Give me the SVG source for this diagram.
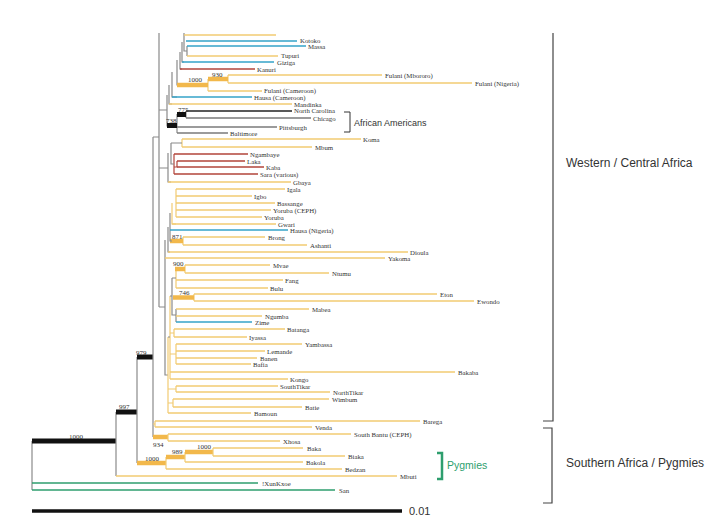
<svg xmlns="http://www.w3.org/2000/svg" width="721" height="527" viewBox="0 0 721 527">
<style>
.l{fill:none;stroke-width:1.4}
.y{stroke:#F2CB72}
.b{stroke:#35A3C9}
.r{stroke:#B2443A}
.g{stroke:#2E9E6E;stroke-width:1.6}
.k{stroke:#222}
.m{stroke:#7a7a7a}
.i{fill:none;stroke:#8a8a8a;stroke-width:1.2}
.iy{fill:none;stroke:#F2CB72;stroke-width:1.2}
.ir{fill:none;stroke:#B2443A;stroke-width:1.2}
.bk{stroke:#111;stroke-width:5}
.bo{stroke:#F2B84B;stroke-width:4.5}
.t{font-family:"Liberation Serif","Times New Roman",serif;font-size:6.8px;fill:#333}
.bs{font-family:"Liberation Serif","Times New Roman",serif;font-size:7px;fill:#333}
.s{font-family:"Liberation Sans",Arial,sans-serif;fill:#333}
</style>
<rect width="721" height="527" fill="#fff"/>
<g id="connectors">
<path class="i" d="M32 441V490" stroke="#555"/>
<path class="bk" d="M32 441H116"/>
<path class="i" d="M116 412V476"/>
<path class="bk" d="M116 412H137"/>
<path class="i" d="M137 357V463"/>
<path class="bk" d="M137 357H153"/>
<path class="bo" d="M137 463H166"/>
<path class="iy" d="M166 457V469"/>
<path class="bo" d="M166 457H185"/>
<path class="iy" d="M185 452V462"/>
<path class="bo" d="M185 452H213"/>
<path class="iy" d="M213 448V456"/>
<path class="i" d="M153 137V437"/>
<path class="bo" d="M153 437H168"/>
<path class="iy" d="M168 434V441"/>
<path class="iy" d="M153 424H155M155 421V427"/>
<path class="i" d="M153 137H159M159 33V307"/>
<path class="i" d="M187 46V56M184 33V51H187M182 42V62H184M180 52V69H182M177 60V85H180M172 72V97H177M169 85V104H172M167 95V126H169M159 110H167"/>
<path class="iy" d="M228 75V83M208 79V91"/>
<path class="bo" d="M208 79H228"/>
<path class="bo" d="M177 85H208"/>
<path class="i" d="M186 111V118M177 114V133"/>
<path class="bk" d="M177 114.5H186"/>
<path class="bk" d="M167 125.5H177"/>
<path class="iy" d="M182 139V147"/>
<path class="ir" d="M174 154V174M177 161V167H174"/>
<path class="i" d="M171 143V164H174M171 143H182M168 153V182H171M159 168H168"/>
<path class="iy" d="M176 189V217M172 203V224H176M183 237V245"/>
<path class="bo" d="M170 241H183"/>
<path class="i" d="M170 213V241H172M168 227V252H170M165 240V375H168M159 307H165"/>
<path class="iy" d="M185 265V273M176 269V288M194 294V301M174 329V337M176 344V364M176 386V392M173 399V407"/>
<path class="bo" d="M175 269H185"/>
<path class="bo" d="M173 297.5H194"/>
<path class="i" d="M176 309V322M172 278V315H176M172 278H176"/>
<path class="iy" d="M170 296V379M170 333H174M170 354H176M168 337V413M168 389H176M168 403H173"/>
<path class="i" d="M170 296H172M168 337H170"/>
</g>
<g id="leaves" class="l">
<path class="y" d="M184 35H276"/>
<path class="b" d="M186 41H297"/>
<path class="b" d="M187 46H306"/>
<path class="y" d="M187 56H278"/>
<path class="b" d="M182 62H274"/>
<path class="r" d="M180 69H255"/>
<path class="y" d="M228 75H382"/>
<path class="y" d="M228 83H472"/>
<path class="y" d="M208 91H262"/>
<path class="b" d="M172 97H252"/>
<path class="y" d="M169 104H292"/>
<path class="k" d="M186 111H292"/>
<path class="m" d="M186 118H311"/>
<path class="m" d="M177 127H277"/>
<path class="m" d="M177 133H228"/>
<path class="y" d="M182 139H361"/>
<path class="y" d="M182 147H312"/>
<path class="r" d="M174 154H248"/>
<path class="r" d="M177 161H245"/>
<path class="r" d="M177 167H264"/>
<path class="r" d="M174 174H258"/>
<path class="y" d="M168 182H291"/>
<path class="y" d="M176 189H285"/>
<path class="y" d="M176 196H252"/>
<path class="y" d="M176 203H275"/>
<path class="y" d="M176 210H271"/>
<path class="y" d="M176 217H262"/>
<path class="y" d="M172 224H276"/>
<path class="b" d="M170 230H288"/>
<path class="y" d="M183 237H265"/>
<path class="y" d="M183 245H307"/>
<path class="y" d="M168 252H408"/>
<path class="y" d="M165 258H385"/>
<path class="y" d="M185 265H270"/>
<path class="y" d="M185 273H329"/>
<path class="y" d="M176 280H283"/>
<path class="y" d="M176 288H268"/>
<path class="y" d="M194 294H437"/>
<path class="y" d="M194 301H474"/>
<path class="y" d="M176 309H309"/>
<path class="y" d="M176 316H262"/>
<path class="b" d="M176 322H252"/>
<path class="y" d="M174 329H285"/>
<path class="y" d="M174 337H247"/>
<path class="y" d="M176 344H302"/>
<path class="y" d="M176 351H265"/>
<path class="y" d="M176 358H257"/>
<path class="y" d="M176 364H251"/>
<path class="y" d="M170 372H455"/>
<path class="y" d="M170 379H288"/>
<path class="y" d="M176 386H278"/>
<path class="y" d="M176 392H330"/>
<path class="y" d="M173 399H329"/>
<path class="y" d="M173 407H302"/>
<path class="y" d="M168 413H251"/>
<path class="y" d="M155 421H420"/>
<path class="y" d="M155 427H312"/>
<path class="y" d="M168 434H351"/>
<path class="y" d="M168 441H280"/>
<path class="y" d="M213 448H303"/>
<path class="y" d="M213 456H345"/>
<path class="y" d="M185 462H303"/>
<path class="y" d="M166 469H342"/>
<path class="y" d="M116 476H397"/>
<path class="g" d="M32 483H258"/>
<path class="g" d="M32 490H335"/>
</g>
<g id="labels" class="t">
<g id="n-kotoko"><text x="300" y="43">Kotoko</text></g>
<g id="n-massa"><text x="308" y="49">Massa</text></g>
<g id="n-tupuri"><text x="281" y="58">Tupuri</text></g>
<g id="n-giziga"><text x="277" y="65">Giziga</text></g>
<g id="n-kanuri"><text x="257" y="71.5">Kanuri</text></g>
<g id="n-fulani-mbororo"><text x="385" y="77.5">Fulani (Mbororo)</text></g>
<g id="n-fulani-nigeria"><text x="475" y="85.5">Fulani (Nigeria)</text></g>
<g id="n-fulani-cameroon"><text x="264" y="93">Fulani (Cameroon)</text></g>
<g id="n-hausa-cameroon"><text x="254" y="100">Hausa (Cameroon)</text></g>
<g id="n-mandinka"><text x="294" y="106.5">Mandinka</text></g>
<g id="n-north-carolina"><text x="294" y="113">North Carolina</text></g>
<g id="n-chicago"><text x="313" y="120.5">Chicago</text></g>
<g id="n-pittsburgh"><text x="279" y="129.5">Pittsburgh</text></g>
<g id="n-baltimore"><text x="230" y="135.5">Baltimore</text></g>
<g id="n-koma"><text x="363" y="141.5">Koma</text></g>
<g id="n-mbum"><text x="315" y="149.5">Mbum</text></g>
<g id="n-ngambaye"><text x="250" y="156.5">Ngambaye</text></g>
<g id="n-laka"><text x="247" y="163.5">Laka</text></g>
<g id="n-kaba"><text x="266" y="169.5">Kaba</text></g>
<g id="n-sara"><text x="260" y="176.5">Sara (various)</text></g>
<g id="n-gbaya"><text x="293" y="184.5">Gbaya</text></g>
<g id="n-igala"><text x="287" y="191.5">Igala</text></g>
<g id="n-igbo"><text x="254" y="198.5">Igbo</text></g>
<g id="n-bassange"><text x="277" y="205.5">Bassange</text></g>
<g id="n-yoruba-ceph"><text x="273" y="212.5">Yoruba (CEPH)</text></g>
<g id="n-yoruba"><text x="264" y="219.5">Yoruba</text></g>
<g id="n-gwari"><text x="278" y="226.5">Gwari</text></g>
<g id="n-hausa-nigeria"><text x="290" y="232.5">Hausa (Nigeria)</text></g>
<g id="n-brong"><text x="268" y="239.5">Brong</text></g>
<g id="n-ashanti"><text x="310" y="247.5">Ashanti</text></g>
<g id="n-dioula"><text x="410" y="254.5">Dioula</text></g>
<g id="n-yakoma"><text x="388" y="260.5">Yakoma</text></g>
<g id="n-mvae"><text x="273" y="267.5">Mvae</text></g>
<g id="n-ntumu"><text x="332" y="275.5">Ntumu</text></g>
<g id="n-fang"><text x="285" y="282.5">Fang</text></g>
<g id="n-bulu"><text x="270" y="290.5">Bulu</text></g>
<g id="n-eton"><text x="440" y="296.5">Eton</text></g>
<g id="n-ewondo"><text x="477" y="303.5">Ewondo</text></g>
<g id="n-mabea"><text x="312" y="311.5">Mabea</text></g>
<g id="n-ngumba"><text x="265" y="318.5">Ngumba</text></g>
<g id="n-zime"><text x="255" y="324.5">Zime</text></g>
<g id="n-batanga"><text x="287" y="331.5">Batanga</text></g>
<g id="n-iyassa"><text x="249" y="339.5">Iyassa</text></g>
<g id="n-yambassa"><text x="305" y="346.5">Yambassa</text></g>
<g id="n-lemande"><text x="267" y="353.5">Lemande</text></g>
<g id="n-banen"><text x="260" y="360.5">Banen</text></g>
<g id="n-bafia"><text x="253" y="366.5">Bafia</text></g>
<g id="n-bakaba"><text x="458" y="374.5">Bakaba</text></g>
<g id="n-kongo"><text x="290" y="381.5">Kongo</text></g>
<g id="n-southtikar"><text x="280" y="388.5">SouthTikar</text></g>
<g id="n-northtikar"><text x="333" y="394.5">NorthTikar</text></g>
<g id="n-wimbum"><text x="332" y="401.5">Wimbum</text></g>
<g id="n-batie"><text x="305" y="409.5">Batie</text></g>
<g id="n-bamoun"><text x="254" y="415.5">Bamoun</text></g>
<g id="n-barega"><text x="423" y="423.5">Barega</text></g>
<g id="n-venda"><text x="315" y="429.5">Venda</text></g>
<g id="n-south-bantu"><text x="354" y="436.5">South Bantu (CEPH)</text></g>
<g id="n-xhosa"><text x="283" y="443.5">Xhosa</text></g>
<g id="n-baka"><text x="307" y="450.5">Baka</text></g>
<g id="n-biaka"><text x="348" y="458.5">Biaka</text></g>
<g id="n-bakola"><text x="306" y="464.5">Bakola</text></g>
<g id="n-bedzan"><text x="345" y="471.5">Bedzan</text></g>
<g id="n-mbuti"><text x="400" y="478.5">Mbuti</text></g>
<g id="n-xunkxoe"><text x="262" y="485.5">!XunKxoe</text></g>
<g id="n-san"><text x="339" y="492.5">San</text></g>
</g>
<g id="bootstrap" class="bs">
<text x="188" y="82">1000</text>
<text x="212" y="77">930</text>
<text x="178" y="112">775</text>
<text x="166" y="123">738</text>
<text x="172" y="239">871</text>
<text x="173" y="266">900</text>
<text x="179" y="295">746</text>
<text x="136" y="355">979</text>
<text x="119" y="409">997</text>
<text x="69" y="439">1000</text>
<text x="153" y="447">934</text>
<text x="145" y="461">1000</text>
<text x="172" y="454">989</text>
<text x="197" y="449">1000</text>
</g>
<g id="groups">
<g id="african-americans">
<path d="M344 112H350V132H344" fill="none" stroke="#333" stroke-width="1"/>
<text class="s" x="354" y="126" font-size="9">African Americans</text>
</g>
<g id="pygmies">
<path d="M437 453H442V479H437" fill="none" stroke="#2E9E6E" stroke-width="2.5"/>
<text x="447" y="469" font-family="Liberation Sans,Arial,sans-serif" font-size="10.5" fill="#2E9E6E">Pygmies</text>
</g>
<g id="western-central">
<path d="M553 33V421H543" fill="none" stroke="#444" stroke-width="1.2"/>
<text class="s" x="566" y="167" font-size="12">Western / Central Africa</text>
</g>
<g id="southern">
<path d="M543 428H552V503H543" fill="none" stroke="#444" stroke-width="1.2"/>
<text class="s" x="566" y="467" font-size="12">Southern Africa / Pygmies</text>
</g>
<g id="scale">
<path d="M32 511H402" stroke="#111" stroke-width="3.5"/>
<text class="s" x="409" y="515" font-size="11">0.01</text>
</g>
</g>
</svg>
